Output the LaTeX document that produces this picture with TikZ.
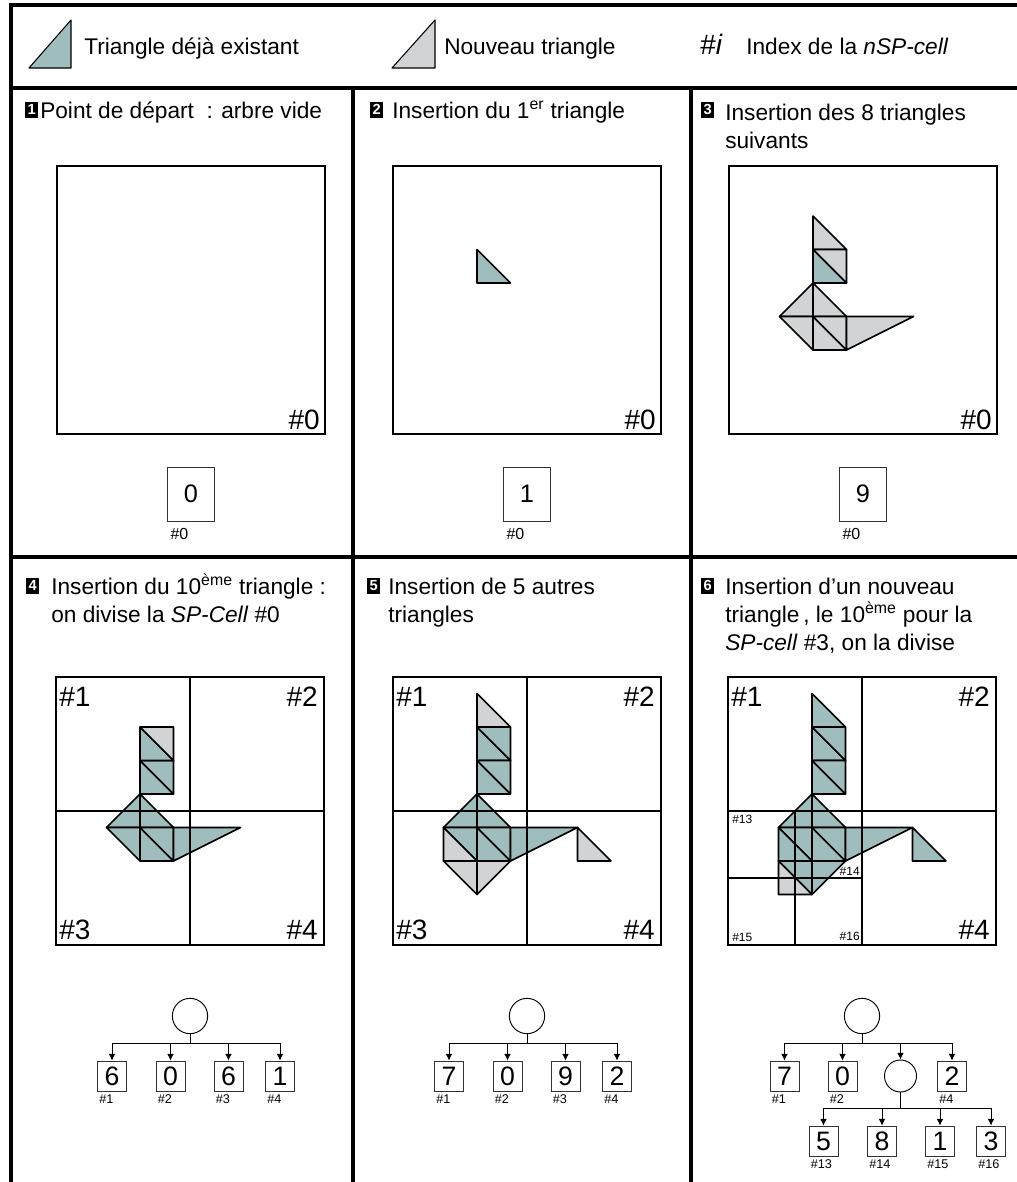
\documentclass[tikz,border=0pt]{standalone}
\usepackage{fontspec}
\setmainfont{Liberation Sans}
\usetikzlibrary{arrows.meta,positioning,calc}
\definecolor{oldfill}{HTML}{A0BDBD}
\definecolor{newfill}{HTML}{D1D3D4}
\tikzset{
  tablerule/.style={draw=black, line width=3pt},
  cellsq/.style={draw=black, line width=1.1pt},
  quadline/.style={draw=black, line width=0.9pt},
  oldtri/.style={draw=black, fill=oldfill, line width=1.2pt, line join=round},
  newtri/.style={draw=black, fill=newfill, line width=1.2pt, line join=round},
  title/.style={anchor=base west, align=left, inner sep=0pt, font=\fontsize{17}{21}\selectfont},
  numtag/.style={anchor=south west, fill=black, text=white, inner sep=0pt,
    minimum width=9.5pt, minimum height=12pt, font=\fontsize{11}{11}\selectfont\bfseries},
  legend/.style={anchor=base west, inner sep=0pt, font=\fontsize{17}{21}\selectfont},
  bigidx/.style={inner sep=0pt, font=\fontsize{21}{21}\selectfont},
  smallidx/.style={inner sep=0pt, font=\fontsize{9}{9}\selectfont},
  leaf/.style={draw=black!80, line width=0.6pt, minimum width=21.75pt, minimum height=22.5pt,
    inner sep=0pt, font=\fontsize{20}{20}\selectfont},
  rootleaf/.style={leaf, minimum width=35pt, minimum height=40.5pt, font=\fontsize{19}{19}\selectfont},
  knot/.style={circle, draw=black, line width=0.7pt, minimum size=26.5pt, inner sep=0pt},
  treeline/.style={draw=black, line width=0.7pt},
  downarr/.style={-{Latex[length=5pt,width=5pt]}, line width=0.7pt},
  leafidx/.style={anchor=north west, inner sep=0pt, font=\fontsize{9.5}{9.5}\selectfont}
}
% triangles of the drawing, in grid units (x y x y x y)
\newcommand{\birdtop}{0/0/0/1/1/1, 0/0/1/0/1/1}
\newcommand{\birdcore}{0/1/0/2/1/2, 0/1/1/1/1/2, 0/2/-1/3/0/3, 0/2/0/3/1/3, -1/3/0/4/0/3, 0/3/0/4/1/4, 0/3/1/3/1/4, 1/3/3/3/1/4}
\newcommand{\birdextra}{0/-1/0/0/1/0, -1/3/-1/4/0/4, -1/4/0/4/0/5, 0/4/1/4/0/5, 3/3/3/4/4/4}
\newcommand{\trigroup}[2]{\foreach \ax/\ay/\bx/\by/\cx/\cy in #2 {\draw[#1] (\ax,\ay) -- (\bx,\by) -- (\cx,\cy) -- cycle;}}

\begin{document}
\begin{tikzpicture}[x=0.75pt, y=-0.75pt]
  \useasboundingbox (0,0) rectangle (1017,1182);
  \clip (0,0) rectangle (1017,1182);

  % table
  \draw[tablerule] (11,1200) -- (11,5) -- (1040,5);
  \draw[tablerule] (11,88) -- (1040,88);
  \draw[tablerule] (11,557) -- (1040,557);
  \draw[tablerule] (352.5,88) -- (352.5,1200);
  \draw[tablerule] (691,88) -- (691,1200);

  % legend
  \draw[oldtri, line width=0.8pt] (29,68) -- (71,20) -- (71,68) -- cycle;
  \node[legend] (lg1) at (84,54) {Triangle déjà existant};
  \draw[newtri, line width=0.8pt] (392,68) -- (435,20) -- (435,68) -- cycle;
  \node[legend] (lg2) at (444,54) {Nouveau triangle};
  \node[legend, font=\fontsize{21}{21}\selectfont] (lg3) at (700,54) {\#\textit{i}};
  \node[legend] (lg4) at (746,54) {Index de la \textit{nSP-cell}};

  % row 1 (base of a title = its last line)
  \node[numtag] (n1) at (25,118) {1};
  \node[title] (t1) at (40,118) {Point de départ~ : arbre vide};
  \node[numtag] (n2) at (370,118) {2};
  \node[title] (t2) at (392,118) {Insertion du 1\textsuperscript{er} triangle};
  \node[numtag] (n3) at (701,118) {3};
  \node[title] (t3) at (725,148) {Insertion des 8 triangles\\suivants};

  \draw[cellsq] (57,166) rectangle ++(268,268);
  \draw[cellsq] (393,166) rectangle ++(268,268);
  \draw[cellsq] (729,166) rectangle ++(268,268);

  \begin{scope}[shift={(477,216)}, x=25.125pt, y=-25.125pt]
    \draw[oldtri] (0,1) -- (0,2) -- (1,2) -- cycle;
  \end{scope}
  \begin{scope}[shift={(813,216)}, x=25.125pt, y=-25.125pt]
    \draw[newtri] (0,0) -- (0,1) -- (1,1) -- cycle;
    \trigroup{newtri}{\birdcore}
    \draw[oldtri] (0,1) -- (0,2) -- (1,2) -- cycle;
  \end{scope}

  \node[bigidx, anchor=south east] (z1) at (320,430) {\#0};
  \node[bigidx, anchor=south east] (z2) at (656,430) {\#0};
  \node[bigidx, anchor=south east] (z3) at (992,430) {\#0};

  \node[rootleaf] (c1) at (191,494) {0};
  \node[rootleaf] (c2) at (527,494) {1};
  \node[rootleaf] (c3) at (863,494) {9};
  \node[leafidx, font=\fontsize{12}{12}\selectfont] (h1) at ([shift={(3,7)}]c1.south west) {\#0};
  \node[leafidx, font=\fontsize{12}{12}\selectfont] (h2) at ([shift={(3,7)}]c2.south west) {\#0};
  \node[leafidx, font=\fontsize{12}{12}\selectfont] (h3) at ([shift={(3,7)}]c3.south west) {\#0};

  % row 2
  \node[numtag] (n4) at (26,594) {4};
  \node[title] (t4) at (51,622) {Insertion du 10\textsuperscript{ème} triangle :\\on divise la \textit{SP-Cell} \#0};
  \node[numtag] (n5) at (367,594) {5};
  \node[title] (t5) at (388,622) {Insertion de 5 autres\\triangles};
  \node[numtag] (n6) at (701,594) {6};
  \node[title] (t6) at (725,650) {Insertion d’un nouveau\\triangle\,, le 10\textsuperscript{ème} pour la\\\textit{SP-cell} \#3, on la divise};

  \begin{scope}[shift={(140,727)}, x=25.125pt, y=-25.125pt]
    \trigroup{oldtri}{\birdcore}
    \draw[oldtri] (0,0) -- (0,1) -- (1,1) -- cycle;
    \draw[newtri] (0,0) -- (1,0) -- (1,1) -- cycle;
  \end{scope}
  \begin{scope}[shift={(477,727)}, x=25.125pt, y=-25.125pt]
    \trigroup{oldtri}{\birdtop}
    \trigroup{oldtri}{\birdcore}
    \trigroup{newtri}{\birdextra}
  \end{scope}
  \begin{scope}[shift={(812,727)}, x=25.125pt, y=-25.125pt]
    \trigroup{oldtri}{\birdtop}
    \trigroup{oldtri}{\birdcore}
    \trigroup{oldtri}{\birdextra}
    \draw[newtri] (-1,4) -- (-1,5) -- (0,5) -- cycle;
  \end{scope}

  \foreach \qx in {56,393,728} {
    \draw[quadline] (\qx+134,677) -- ++(0,268);
    \draw[quadline] (\qx,811) -- ++(268,0);
    \draw[cellsq] (\qx,677) rectangle ++(268,268);
    \node[bigidx, anchor=north west] (q1\qx) at (\qx+3,687) {\#1};
    \node[bigidx, anchor=north east] (q2\qx) at (\qx+262,687) {\#2};
    \node[bigidx, anchor=south east] (q4\qx) at (\qx+262,940) {\#4};
  }
  \node[bigidx, anchor=south west] (q356) at (59,940) {\#3};
  \node[bigidx, anchor=south west] (q3393) at (396,940) {\#3};
  % SP-cell #3 of panel 6 split again
  \draw[quadline] (795,811) -- (795,945);
  \draw[quadline] (728,878) -- (862,878);
  \node[smallidx, anchor=north west] (s13) at (732,815) {\#13};
  \node[smallidx, anchor=south east] (s14) at (860,876) {\#14};
  \node[smallidx, anchor=south west] (s15) at (732,942) {\#15};
  \node[smallidx, anchor=south east] (s16) at (860,941) {\#16};

  % trees
  \node[knot] (r4) at (190,1016) {};
  \coordinate (b4) at (190,1043);
  \node[leaf] (l41) at (112,1076) {6};
  \node[leaf] (l42) at (170.5,1076) {0};
  \node[leaf] (l43) at (228.5,1076) {6};
  \node[leaf] (l44) at (280,1076) {1};
  \draw[treeline] (r4.south) -- (b4);
  \foreach \k in {1,...,4} {
    \draw[downarr] (b4) -| (l4\k.north);
    \node[leafidx] (h4\k) at ([shift={(2,3)}]l4\k.south west) {\#\k};
  }

  \node[knot] (r5) at (527,1016) {};
  \coordinate (b5) at (527,1043);
  \node[leaf] (l51) at (449,1076) {7};
  \node[leaf] (l52) at (507.5,1076) {0};
  \node[leaf] (l53) at (565.5,1076) {9};
  \node[leaf] (l54) at (617,1076) {2};
  \draw[treeline] (r5.south) -- (b5);
  \foreach \k in {1,...,4} {
    \draw[downarr] (b5) -| (l5\k.north);
    \node[leafidx] (h5\k) at ([shift={(2,3)}]l5\k.south west) {\#\k};
  }

  \node[knot] (r6) at (862,1016) {};
  \coordinate (b6) at (862,1043);
  \node[leaf] (l61) at (784.5,1076) {7};
  \node[leaf] (l62) at (842.5,1076) {0};
  \node[knot, minimum size=24pt] (l63) at (900.5,1076) {};
  \node[leaf] (l64) at (952,1076) {2};
  \draw[treeline] (r6.south) -- (b6);
  \foreach \k in {1,...,4} \draw[downarr] (b6) -| (l6\k.north);
  \node[leafidx] (h61) at ([shift={(2,3)}]l61.south west) {\#1};
  \node[leafidx] (h62) at ([shift={(2,3)}]l62.south west) {\#2};
  \node[leafidx] (h64) at ([shift={(2,3)}]l64.south west) {\#4};

  \coordinate (b7) at (900.5,1108);
  \node[leaf] (l71) at (823.5,1141) {5};
  \node[leaf] (l72) at (882,1141) {8};
  \node[leaf] (l73) at (940,1141) {1};
  \node[leaf] (l74) at (991,1141) {3};
  \draw[treeline] (l63.south) -- (b7);
  \foreach \k/\idx in {1/13,2/14,3/15,4/16} {
    \draw[downarr] (b7) -| (l7\k.north);
    \node[leafidx] (h7\k) at ([shift={(2,3)}]l7\k.south west) {\#\idx};
  }
\end{tikzpicture}
\end{document}
